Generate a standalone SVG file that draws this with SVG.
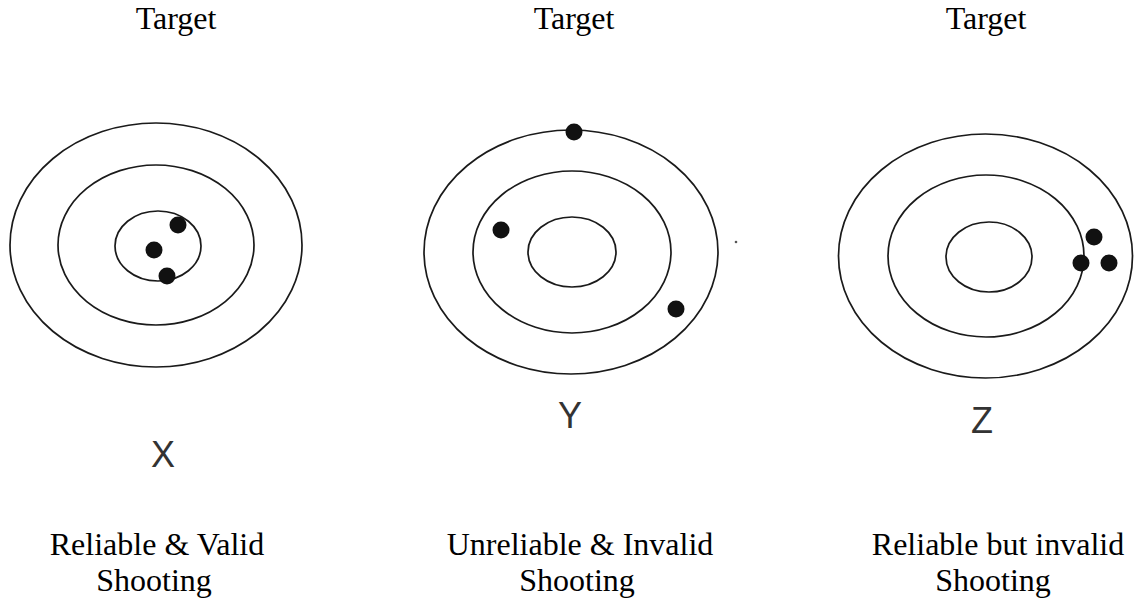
<svg xmlns="http://www.w3.org/2000/svg" width="1141" height="598" viewBox="0 0 1141 598">
<style>
.ring{fill:none;stroke:#1a1a1a;stroke-width:1.7}
.hit{fill:#111}
.cap{font-family:"Liberation Serif","Times New Roman",serif;font-size:32px;fill:#000;text-anchor:middle}
.let{font-family:"Liberation Sans",Arial,sans-serif;font-size:36px;fill:#333;text-anchor:middle}
</style>
<rect width="1141" height="598" fill="#fff"/>
<g id="target-x">
<text class="cap" x="176" y="29">Target</text>
<ellipse class="ring" cx="156" cy="245" rx="146" ry="122"/>
<ellipse class="ring" cx="156" cy="245" rx="98" ry="80"/>
<ellipse class="ring" cx="158" cy="246" rx="43" ry="35"/>
<circle class="hit" cx="178" cy="225" r="8.5"/>
<circle class="hit" cx="154" cy="250" r="8.5"/>
<circle class="hit" cx="167" cy="276" r="8.5"/>
<text class="let" x="163" y="467">X</text>
<text class="cap" x="157" y="555">Reliable &amp; Valid</text>
<text class="cap" x="154" y="591">Shooting</text>
</g>
<g id="target-y">
<text class="cap" x="574" y="29">Target</text>
<ellipse class="ring" cx="571" cy="252" rx="147" ry="122"/>
<ellipse class="ring" cx="572" cy="252" rx="99" ry="81"/>
<ellipse class="ring" cx="572" cy="252" rx="44" ry="35"/>
<circle class="hit" cx="574" cy="132" r="8.5"/>
<circle class="hit" cx="501" cy="230" r="8.5"/>
<circle class="hit" cx="676" cy="309" r="8.5"/>
<circle fill="#555" cx="736" cy="242" r="1.3"/>
<text class="let" x="570" y="428">Y</text>
<text class="cap" x="580" y="555">Unreliable &amp; Invalid</text>
<text class="cap" x="577" y="591">Shooting</text>
</g>
<g id="target-z">
<text class="cap" x="986" y="29">Target</text>
<ellipse class="ring" cx="985.5" cy="256" rx="147" ry="122"/>
<ellipse class="ring" cx="986" cy="256" rx="98" ry="81"/>
<ellipse class="ring" cx="989" cy="257" rx="43" ry="35"/>
<circle class="hit" cx="1094" cy="237" r="8.5"/>
<circle class="hit" cx="1081" cy="263" r="8.5"/>
<circle class="hit" cx="1109" cy="263" r="8.5"/>
<text class="let" x="982" y="433">Z</text>
<text class="cap" x="998" y="555">Reliable but invalid</text>
<text class="cap" x="993" y="591">Shooting</text>
</g>
</svg>
